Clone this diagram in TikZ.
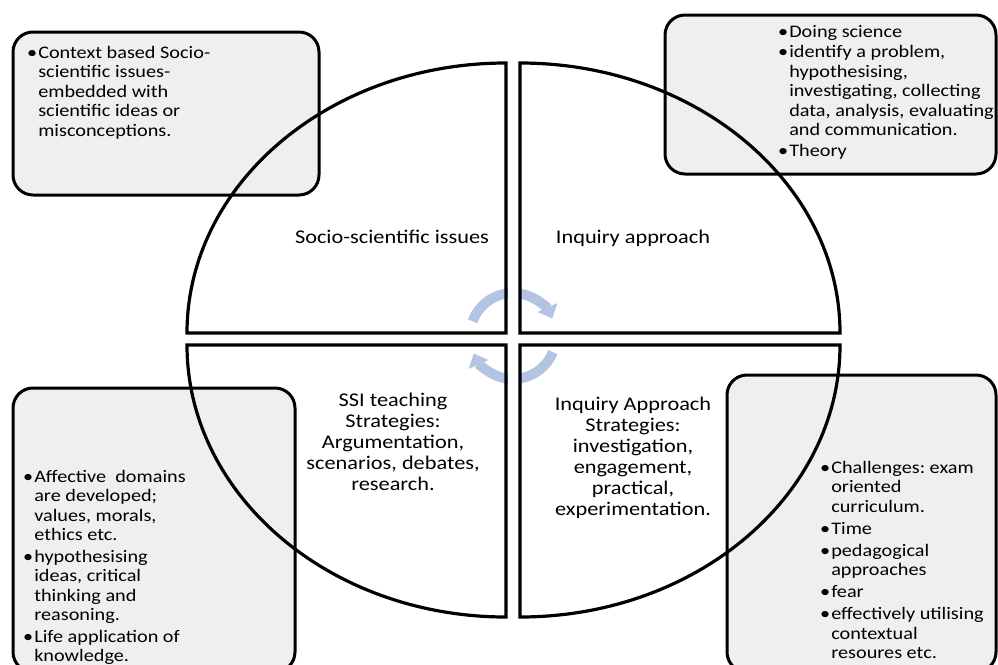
\documentclass[tikz,border=0pt]{standalone}
\usepackage{fontspec}
\setmainfont{Carlito}[FakeStretch=1.15]
\usetikzlibrary{arrows.meta}
\frenchspacing

\definecolor{boxgray}{RGB}{239,239,239}
\definecolor{cycblue}{RGB}{178,196,226}
\newcommand{\boxfont}{\fontsize{17.6}{19.5}\selectfont}
\newcommand{\midfont}{\fontsize{19.4}{21}\selectfont}

\tikzset{
  notebox/.style={draw=black, line width=3pt, fill=boxgray, rounded corners=20pt},
  quarter/.style={draw=black, line width=3.2pt},
  cycarrow/.style={draw=cycblue, line width=10pt, -{Triangle[width=21pt,length=12pt]}},
  boxtext/.style={inner sep=0pt, anchor=base west, font=\boxfont},
  midtext/.style={inner sep=0pt, anchor=base, font=\midfont}
}

\begin{document}
\begin{tikzpicture}[x=1pt, y=-1pt]
    \path[use as bounding box, clip] (0, 0) rectangle (998, 664);

    % corner boxes
    \draw[notebox] (13, 32) rectangle (319, 195);
    \draw[notebox] (665, 15) rectangle (996, 174);
    \draw[notebox] (13, 388) rectangle (295, 672);
    \draw[notebox] (727, 375) rectangle (996, 672);

    % cycle arrows
    \draw[cycarrow] (513, 336) ++(200:43) arc (200:336:43);
    \draw[cycarrow] (513, 336) ++(22:43) arc (22:156:43);
    \fill[white] (507.5, 280) rectangle (518.5, 392);

    % the four quarters
    \draw[quarter] (506, 333) -- (187, 333)
	arc [start angle=180, end angle=270, x radius=319, y radius=270] -- cycle;
    \draw[quarter] (520, 333) -- (520, 63)
	arc [start angle=270, end angle=360, x radius=320, y radius=270] -- cycle;
    \draw[quarter] (506, 345) -- (187, 345)
	arc [start angle=180, end angle=90, x radius=319, y radius=272] -- cycle;
    \draw[quarter] (520, 345) -- (840, 345)
	arc [start angle=0, end angle=90, x radius=320, y radius=272] -- cycle;

    % quarter labels
    \node[midtext] (ssi) at (392, 243) {Socio-scientific issues};
    \node[midtext] (inq) at (633, 243) {Inquiry approach};
    \node[midtext] (ssistrat) at (393, 406) {\begin{tabular}[t]{@{}c@{}}
	SSI teaching\\ Strategies:\\ Argumentation,\\ scenarios, debates,\\ research.
    \end{tabular}};
    \node[midtext] (inqstrat) at (633, 410) {\begin{tabular}[t]{@{}c@{}}
	Inquiry Approach\\ Strategies:\\ investigation,\\ engagement,\\ practical,\\ experimentation.
    \end{tabular}};

    % box texts
    \node[boxtext] (context) at (27, 58) {\begin{tabular}[t]{@{}l@{\hspace{1pt}}l@{}}
	•&Context based Socio-\\
	 &scientific issues-\\
	 &embedded with\\
	 &scientific ideas or\\
	 &misconceptions.
    \end{tabular}};
    \node[boxtext] (doing) at (778, 37) {\begin{tabular}[t]{@{}l@{\hspace{1pt}}l@{}}
	•&Doing science\\[1pt]
	•&identify a problem,\\
	 &hypothesising,\\
	 &investigating, collecting\\
	 &data, analysis, evaluating\\
	 &and communication.\\[1pt]
	•&Theory
    \end{tabular}};
    \node[boxtext] (affective) at (23, 482) {\begin{tabular}[t]{@{}l@{\hspace{1pt}}l@{}}
	•&Affective\ \ domains\\
	 &are developed;\\
	 &values, morals,\\
	 &ethics etc.\\[2pt]
	•&hypothesising\\
	 &ideas, critical\\
	 &thinking and\\
	 &reasoning.\\[2pt]
	•&Life application of\\
	 &knowledge.
    \end{tabular}};
    \node[boxtext] (challenges) at (820, 473) {\begin{tabular}[t]{@{}l@{\hspace{1pt}}l@{}}
	•&Challenges: exam\\
	 &oriented\\
	 &curriculum.\\[2.5pt]
	•&Time\\[2.5pt]
	•&pedagogical\\
	 &approaches\\[2.5pt]
	•&fear\\[2.5pt]
	•&effectively utilising\\
	 &contextual\\
	 &resoures etc.
    \end{tabular}};
\end{tikzpicture}
\end{document}
